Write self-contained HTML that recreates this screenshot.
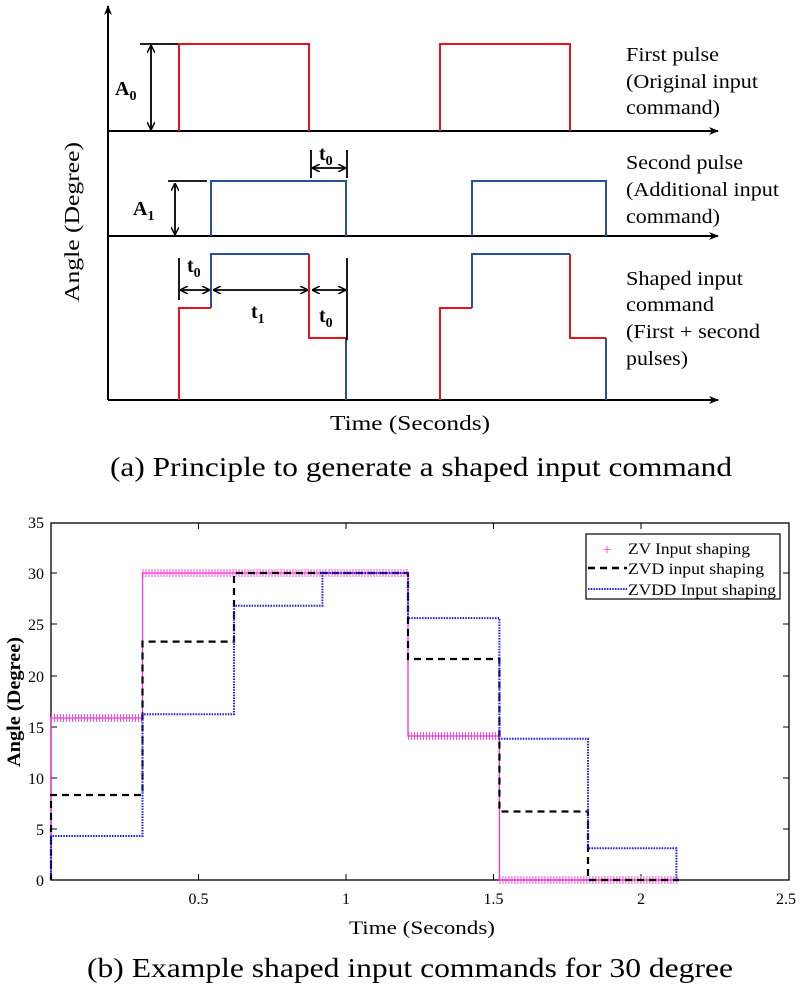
<!DOCTYPE html>
<html><head><meta charset="utf-8"><style>
html,body{margin:0;padding:0;background:#fff;}
svg{display:block;font-family:"Liberation Serif",serif;}
</style></head><body>
<svg width="800" height="991" viewBox="0 0 800 991" xmlns="http://www.w3.org/2000/svg">
<defs>
<marker id="ah" markerWidth="10" markerHeight="10" refX="9" refY="5" orient="auto" markerUnits="userSpaceOnUse"><path d="M0,1 L10,5 L0,9 L3,5 Z" fill="#000"/></marker>
<marker id="sa" markerWidth="8" markerHeight="8" refX="7" refY="4" orient="auto-start-reverse" markerUnits="userSpaceOnUse"><path d="M0,0 L8,4 L0,8" fill="none" stroke="#000" stroke-width="1.5"/></marker>
</defs>
<!-- TOP DIAGRAM -->
<g stroke="#000" stroke-width="2" fill="none">
<line x1="108" y1="400" x2="108" y2="6" marker-end="url(#ah)"/>
<line x1="108" y1="131" x2="718" y2="131" marker-end="url(#ah)"/>
<line x1="108" y1="236" x2="718" y2="236" marker-end="url(#ah)"/>
<line x1="108" y1="400" x2="718" y2="400" marker-end="url(#ah)"/>
</g>
<g fill="none" stroke-width="2">
<path d="M179,131 V44 H309 V131 M440,131 V44 H570 V131" stroke="#e8141c"/>
<path d="M211,236 V181 H346 V236 M472,236 V181 H606 V236" stroke="#2a4f9a"/>
<path d="M179,400 V308 H211 M309,254 V338 H346 M440,400 V308 H472 M570,254 V338 H606" stroke="#e8141c"/>
<path d="M211,308 V254 H309 M346,338 V400 M472,308 V254 H570 M606,338 V400" stroke="#2a4f9a"/>
</g>
<g stroke="#000" stroke-width="1.8" fill="none">
<line x1="140" y1="44" x2="178" y2="44"/>
<line x1="151" y1="46" x2="151" y2="129" marker-start="url(#sa)" marker-end="url(#sa)"/>
<line x1="168" y1="181" x2="207" y2="181"/>
<line x1="175" y1="184" x2="175" y2="234" marker-start="url(#sa)" marker-end="url(#sa)"/>
<line x1="311" y1="150" x2="311" y2="178"/><line x1="347" y1="150" x2="347" y2="178"/>
<line x1="313" y1="168" x2="345" y2="168" marker-start="url(#sa)" marker-end="url(#sa)"/>
<line x1="179" y1="258" x2="179" y2="300"/>
<line x1="347" y1="258" x2="347" y2="340"/>
<line x1="181" y1="290" x2="209" y2="290" marker-start="url(#sa)" marker-end="url(#sa)"/>
<line x1="214" y1="290" x2="307" y2="290" marker-start="url(#sa)" marker-end="url(#sa)"/>
<line x1="313" y1="290" x2="345" y2="290" marker-start="url(#sa)" marker-end="url(#sa)"/>
</g>
<g font-weight="bold" font-size="20" fill="#000">
<text x="115" y="95">A<tspan font-size="14" dy="5">0</tspan></text>
<text x="133" y="215">A<tspan font-size="14" dy="5">1</tspan></text>
<text x="319" y="160">t<tspan font-size="14" dy="5">0</tspan></text>
<text x="187" y="272">t<tspan font-size="14" dy="5">0</tspan></text>
<text x="251" y="318">t<tspan font-size="14" dy="5">1</tspan></text>
<text x="319" y="322">t<tspan font-size="14" dy="5">0</tspan></text>
</g>
<g font-size="20" fill="#000">
<text x="626" y="61" textLength="93" lengthAdjust="spacingAndGlyphs">First pulse</text>
<text x="626" y="88" textLength="132" lengthAdjust="spacingAndGlyphs">(Original input</text>
<text x="626" y="114" textLength="94" lengthAdjust="spacingAndGlyphs">command)</text>
<text x="626" y="169" textLength="117" lengthAdjust="spacingAndGlyphs">Second pulse</text>
<text x="626" y="196" textLength="153" lengthAdjust="spacingAndGlyphs">(Additional input</text>
<text x="626" y="223" textLength="94" lengthAdjust="spacingAndGlyphs">command)</text>
<text x="626" y="285" textLength="117" lengthAdjust="spacingAndGlyphs">Shaped input</text>
<text x="626" y="311" textLength="88" lengthAdjust="spacingAndGlyphs">command</text>
<text x="626" y="338" textLength="134" lengthAdjust="spacingAndGlyphs">(First + second</text>
<text x="626" y="365" textLength="62" lengthAdjust="spacingAndGlyphs">pulses)</text>
<text x="410" y="430" text-anchor="middle" font-size="21" textLength="160" lengthAdjust="spacingAndGlyphs">Time (Seconds)</text>
<text transform="translate(79,222) rotate(-90)" text-anchor="middle" font-size="21" textLength="160" lengthAdjust="spacingAndGlyphs">Angle (Degree)</text>
</g>
<text x="110" y="476" font-size="27" fill="#000" textLength="622" lengthAdjust="spacingAndGlyphs">(a) Principle to generate a shaped input command</text>
<!-- BOTTOM PLOT -->
<rect x="51" y="523" width="738" height="357" fill="none" stroke="#000" stroke-width="1.3"/>
<g stroke="#000" stroke-width="1">
<path d="M198.5,880v-6M346,880v-6M493.5,880v-6M641,880v-6M198.5,523v6M346,523v6M493.5,523v6M641,523v6"/>
<path d="M51,829h6M51,778h6M51,727h6M51,676h6M51,624h6M51,573h6M789,829h-6M789,778h-6M789,727h-6M789,676h-6M789,624h-6M789,573h-6"/>
</g>
<g font-size="16" fill="#000" text-anchor="end">
<text x="44" y="886">0</text><text x="44" y="835">5</text><text x="44" y="784">10</text><text x="44" y="733">15</text><text x="44" y="682">20</text><text x="44" y="630">25</text><text x="44" y="579">30</text><text x="44" y="528">35</text>
</g>
<g font-size="16" fill="#000" text-anchor="middle">
<text x="198.5" y="904">0.5</text><text x="346" y="904">1</text><text x="493.5" y="904">1.5</text><text x="641" y="904">2</text><text x="786" y="904">2.5</text>
<text x="422" y="934" font-size="19" textLength="146" lengthAdjust="spacingAndGlyphs">Time (Seconds)</text>
</g>
<text transform="translate(20,702) rotate(-90)" text-anchor="middle" font-size="19" font-weight="bold" fill="#000" textLength="130" lengthAdjust="spacingAndGlyphs">Angle (Degree)</text>
<text x="87" y="977" font-size="27" fill="#000" textLength="646" lengthAdjust="spacingAndGlyphs">(b) Example shaped input commands for 30 degree</text>
<!-- series -->
<path d="M51,880 V718 H142.5 V573 H408 V736 H499.4 V880 H679" fill="none" stroke="#ff33dd" stroke-width="1.3"/>
<path d="M51,718 H142.5 M142.5,573 H408 M408,736 H499.4 M499.4,880 H679" fill="none" stroke="#ff33dd" stroke-width="8" stroke-dasharray="1 2" opacity="0.85"/>
<path d="M51,880 V795 H142.5 V641.6 H234 V573 H408 V659 H499.4 V811.5 H588 V880 H679" fill="none" stroke="#000" stroke-width="2.2" stroke-dasharray="7 5"/>
<path d="M51,875 V836 H142.5 V714.3 H234 V605.8 H322.4 V573 H408 V618.1 H499.4 V738.8 H588 V848.3 H676.4 V880" fill="none" stroke="#1a1aee" stroke-width="2" stroke-dasharray="1.5 1.2"/>
<!-- legend -->
<rect x="586" y="534" width="194" height="65" fill="#fff" stroke="#000" stroke-width="1.2"/>
<text x="607" y="555" text-anchor="middle" font-size="16" fill="#ff33dd">+</text>
<line x1="588" y1="568" x2="627" y2="568" stroke="#000" stroke-width="2.5" stroke-dasharray="7 5"/>
<line x1="588" y1="589" x2="627" y2="589" stroke="#1a1aee" stroke-width="2" stroke-dasharray="1.5 1.2"/>
<g font-size="16" fill="#000">
<text x="628" y="554" textLength="122" lengthAdjust="spacingAndGlyphs">ZV Input shaping</text>
<text x="628" y="574" textLength="136" lengthAdjust="spacingAndGlyphs">ZVD input shaping</text>
<text x="628" y="595" textLength="148" lengthAdjust="spacingAndGlyphs">ZVDD Input shaping</text>
</g>
</svg>
</body></html>
